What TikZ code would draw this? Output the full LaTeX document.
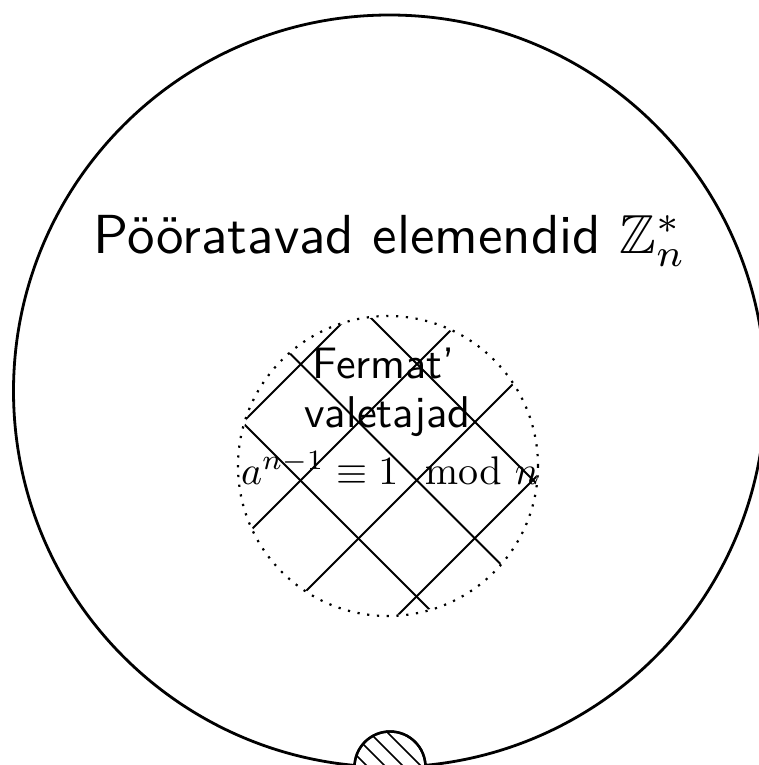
\documentclass[tikz,border=0pt]{standalone}
\usepackage{amsmath,amssymb}
\usepackage{graphicx}
\begin{document}
\begin{tikzpicture}[x=1pt,y=-1pt,
  bigring/.style={line width=2.8pt},
  dotring/.style={line width=2.2pt,dash pattern=on 2.2pt off 7.6pt},
  hatchline/.style={line width=1.8pt},
  smallring/.style={line width=2.4pt,fill=white},
  lbl/.style={anchor=base,inner sep=0pt,font=\fontsize{10}{12}\selectfont}]
\useasboundingbox (0,0) rectangle (759,765);
\clip (0,0) rectangle (759,765);
% big circle
\node[bigring,draw,circle,minimum size=752pt,inner sep=0pt] (big) at (389.5,391) {};
\node[lbl] (title) at (390,253) {\scalebox{5.5}{\sffamily P\"o\"oratavad elemendid $\mathbb{Z}_n^*$}};
% inner dotted circle with crosshatch
\coordinate (fc) at (388,466);
\begin{scope}
  \clip (fc) circle (149);
  \foreach \c in {665,781,897,1013} {\draw[hatchline] (0,\c) -- (\c,0);}
  \foreach \c in {180,63.5,-53} {\draw[hatchline] (0,\c) -- (800,800+\c);}
\end{scope}
\node[dotring,draw,circle,minimum size=300pt,inner sep=0pt] (ferm) at (fc) {};
\node[lbl] (l1) at (383.5,378) {\scalebox{4.4}{\sffamily Fermat'}};
\node[lbl] (l2) at (387.5,427) {\scalebox{4.45}{\sffamily valetajad}};
\node[lbl] (l3) at (390,484) {\scalebox{4.0}{$a^{n-1}\equiv 1 \mod n$}};
% small hatched circle
\coordinate (sc) at (390,767);
\draw[smallring] (sc) circle (35.5);
\begin{scope}
  \clip (sc) circle (35);
  \foreach \c in {417,399,381,363,345,327} {\draw[line width=1.6pt] (300,300+\c) -- (500,500+\c);}
\end{scope}
\node[draw,circle,line width=2.4pt,minimum size=71pt,inner sep=0pt] (small) at (sc) {};
\end{tikzpicture}
\end{document}
